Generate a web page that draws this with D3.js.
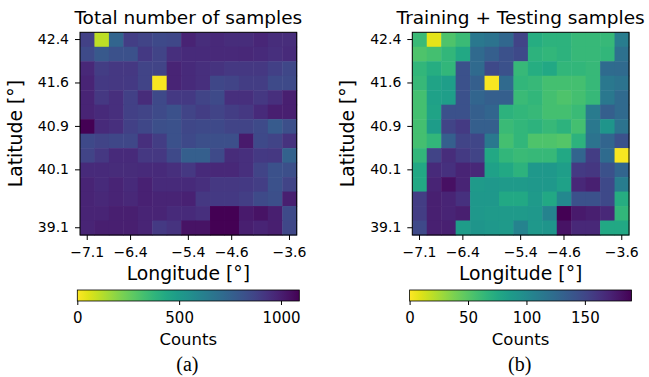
<!DOCTYPE html>
<html>
<head>
<meta charset="utf-8">
<script src="https://cdn.jsdelivr.net/npm/d3@7"></script>
<style>
  body { margin: 0; background: #fff; }
  svg { display: block; font-family: "DejaVu Sans", sans-serif; }
</style>
</head>
<body>
<div id="chart"></div>
<script>
// tick labels and which grid row / column they sit on
const latTickLabels = ["42.4", "41.6", "40.9", "40.1", "39.1"];
const latTickRows = [0, 3, 6, 9, 13];
const lonTickLabels = ["\u22127.1", "\u22126.4", "\u22125.4", "\u22124.6", "\u22123.6"];
const lonTickCols = [0, 3, 7, 10, 14];

// (a) total number of samples per cell, rows north -> south
const totalCounts = [
  [880, 110, 740, 890, 870, 850, 860, 985, 950, 965, 950, 950, 975, 950, 950],
  [845, 790, 820, 820, 910, 870, 945, 960, 960, 965, 965, 970, 960, 945, 960],
  [970, 895, 915, 915, 870, 870, 980, 960, 945, 930, 915, 915, 915, 885, 860],
  [980, 910, 915, 910, 870, 10, 980, 960, 945, 860, 870, 895, 895, 845, 845],
  [980, 915, 945, 885, 955, 850, 910, 910, 870, 845, 945, 945, 915, 945, 1000],
  [980, 960, 945, 885, 870, 845, 820, 870, 895, 870, 895, 915, 960, 1000, 1000],
  [1090, 960, 945, 885, 860, 830, 820, 860, 850, 850, 870, 870, 845, 780, 830],
  [850, 870, 860, 860, 945, 895, 820, 850, 830, 830, 830, 1015, 850, 870, 935],
  [870, 915, 960, 960, 915, 915, 850, 765, 765, 845, 955, 945, 910, 915, 750],
  [960, 960, 955, 955, 960, 960, 945, 915, 960, 970, 970, 945, 870, 820, 830],
  [980, 960, 980, 960, 990, 960, 960, 960, 945, 915, 915, 910, 890, 820, 870],
  [980, 970, 980, 970, 990, 980, 980, 990, 915, 910, 910, 890, 845, 830, 1000],
  [980, 980, 1000, 1000, 980, 980, 960, 960, 945, 1090, 1090, 1015, 1035, 1000, 845],
  [980, 1000, 1000, 1000, 980, 910, 930, 1035, 1035, 1090, 1090, 1000, 980, 1000, 860]
];

// (b) training + testing samples per cell
const trainTestCounts = [
  [61, 8, 53, 61, 114, 118, 127, 152, 72, 68, 68, 63, 63, 63, 110],
  [53, 57, 65, 76, 125, 133, 143, 148, 68, 65, 68, 63, 63, 65, 120],
  [65, 72, 65, 143, 125, 148, 143, 63, 72, 76, 65, 65, 63, 124, 125],
  [63, 80, 84, 143, 133, 2, 125, 65, 63, 57, 57, 57, 63, 114, 118],
  [57, 82, 84, 143, 129, 133, 133, 61, 65, 57, 53, 57, 63, 114, 125],
  [57, 80, 143, 143, 133, 129, 68, 65, 63, 57, 57, 61, 112, 133, 125],
  [57, 86, 152, 158, 133, 133, 61, 65, 68, 63, 68, 57, 114, 91, 118],
  [57, 65, 133, 152, 150, 114, 57, 65, 53, 53, 51, 68, 118, 129, 143],
  [65, 152, 166, 158, 152, 76, 65, 61, 63, 63, 76, 129, 156, 124, 2],
  [76, 167, 164, 171, 169, 82, 76, 68, 89, 89, 84, 158, 160, 143, 129],
  [76, 171, 182, 171, 87, 89, 87, 87, 89, 89, 82, 169, 173, 148, 110],
  [156, 173, 171, 164, 89, 89, 76, 76, 87, 76, 101, 143, 143, 148, 72],
  [156, 173, 171, 174, 89, 87, 87, 87, 89, 105, 190, 177, 174, 169, 65],
  [148, 173, 173, 86, 91, 89, 87, 105, 89, 91, 181, 169, 169, 76, 76]
];

const totalTicks = [0, 500, 1000];
const trainTestTicks = [0, 50, 100, 150];

const width = 649;
const height = 377;

const svg = d3.create("svg")
  .attr("width", width)
  .attr("height", height)
  .attr("viewBox", [0, 0, width, height]);

d3.select("#chart").append(() => svg.node());

const defs = svg.append("defs");

function styleText(a, size) {
  a.selectAll("text")
    .attr("font-size", size)
    .attr("fill", "#000")
    .attr("font-family", "DejaVu Sans");
  a.selectAll("line").attr("stroke", "#000").attr("stroke-width", 1);
}

function drawPanel(opts) {
  const {grid, max, ticks, title, letter, left, id} = opts;
  const top = 32.3, bottom = 235;
  const w = 216.7;
  const nRows = grid.length, nCols = grid[0].length;

  const x = d3.scaleBand().domain(d3.range(nCols)).range([left, left + w]);
  const y = d3.scaleBand().domain(d3.range(nRows)).range([top, bottom]);
  const color = d3.scaleSequential(t => d3.interpolateViridis(1 - t)).domain([0, max]);

  const cells = grid.flatMap((row, r) => row.map((v, c) => ({r, c, v})));

  const g = svg.append("g");

  g.append("g")
    .selectAll()
    .data(cells)
    .join("rect")
    .attr("x", d => x(d.c))
    .attr("y", d => y(d.r))
    .attr("width", x.bandwidth() + 0.5)
    .attr("height", y.bandwidth() + 0.5)
    .attr("fill", d => color(d.v));

  g.append("rect")
    .attr("x", left).attr("y", top)
    .attr("width", w).attr("height", bottom - top)
    .attr("fill", "none").attr("stroke", "#000").attr("stroke-width", 1);

  // axes
  g.append("g")
    .attr("transform", `translate(${left},0)`)
    .call(d3.axisLeft(y).tickValues(latTickRows)
      .tickFormat((d, i) => latTickLabels[i]).tickSize(5).tickPadding(6))
    .call(a => a.select(".domain").remove())
    .call(a => styleText(a, 14));

  g.append("g")
    .attr("transform", `translate(0,${bottom})`)
    .call(d3.axisBottom(x).tickValues(lonTickCols)
      .tickFormat((d, i) => lonTickLabels[i]).tickSize(5).tickPadding(7))
    .call(a => a.select(".domain").remove())
    .call(a => styleText(a, 14));

  // titles
  g.append("text")
    .attr("x", left + w / 2).attr("y", 24)
    .attr("text-anchor", "middle")
    .attr("font-size", 18.5)
    .text(title);

  g.append("text")
    .attr("x", left + w / 2).attr("y", 280)
    .attr("text-anchor", "middle")
    .attr("font-size", 18.8)
    .text("Longitude [°]");

  g.append("text")
    .attr("transform", `translate(${left - 58},${(top + bottom) / 2}) rotate(-90)`)
    .attr("text-anchor", "middle")
    .attr("font-size", 18.8)
    .text("Latitude [°]");

  // colour bar
  const cbLeft = left - 2.7, cbRight = left + w + 2.6;
  const cbTop = 290, cbH = 11;
  const cx = d3.scaleLinear().domain([0, max]).range([cbLeft, cbRight]);

  const grad = defs.append("linearGradient").attr("id", id);
  grad.selectAll("stop")
    .data(d3.range(0, 1.001, 0.05))
    .join("stop")
    .attr("offset", d => d)
    .attr("stop-color", d => color(d * max));

  g.append("rect")
    .attr("x", cbLeft).attr("y", cbTop)
    .attr("width", cbRight - cbLeft).attr("height", cbH)
    .attr("fill", `url(#${id})`)
    .attr("stroke", "#000").attr("stroke-width", 0.8);

  g.append("g")
    .attr("transform", `translate(0,${cbTop + cbH})`)
    .call(d3.axisBottom(cx).tickValues(ticks).tickFormat(d3.format("d"))
      .tickSize(4).tickPadding(7.5))
    .call(a => a.select(".domain").remove())
    .call(a => styleText(a, 15));

  g.append("text")
    .attr("x", (cbLeft + cbRight) / 2).attr("y", 345)
    .attr("text-anchor", "middle")
    .attr("font-size", 16.5)
    .text("Counts");

  g.append("text")
    .attr("x", left + w / 2 - 1).attr("y", 371)
    .attr("text-anchor", "middle")
    .attr("font-family", "Liberation Serif, serif")
    .attr("font-size", 20)
    .text(letter);
}

drawPanel({grid: totalCounts, max: 1090, ticks: totalTicks,
  title: "Total number of samples", letter: "(a)", left: 80, id: "cbA"});
drawPanel({grid: trainTestCounts, max: 190, ticks: trainTestTicks,
  title: "Training + Testing samples", letter: "(b)", left: 412.3, id: "cbB"});
</script>
</body>
</html>
